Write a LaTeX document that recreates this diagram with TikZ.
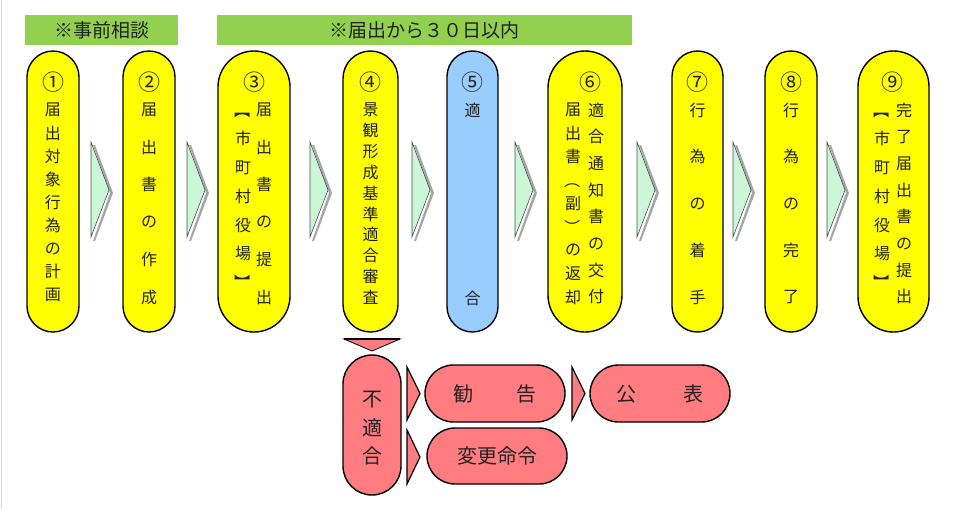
\documentclass[tikz,border=0pt]{standalone}
\usepackage{fontspec}
\setmainfont{Noto Sans CJK JP}
\usepackage{graphicx}
\definecolor{hdrgreen}{HTML}{92D050}
\definecolor{pillyellow}{HTML}{FFFF00}
\definecolor{pillblue}{HTML}{99CCFF}
\definecolor{pillpink}{HTML}{FF7C80}
\definecolor{chevgreen}{HTML}{CCF7D6}
\definecolor{txt}{HTML}{222222}
\tikzset{
  hdr/.style={fill=hdrgreen, draw=none, inner sep=0pt, text=txt, font=\fontsize{19}{19}\selectfont},
  pill/.style={draw=black, line width=1.4pt, inner sep=0pt, rectangle},
  ch/.style={inner sep=0pt, text=txt, font=\fontsize{16}{16}\selectfont},
  num/.style={inner sep=0pt, text=txt, font=\fontsize{22}{22}\selectfont},
  bigch/.style={inner sep=0pt, text=txt, font=\fontsize{20}{20}\selectfont},
  chev/.style={fill=chevgreen, draw=black!70, line width=0.6pt},
  chevshadow/.style={fill=black!35, draw=none},
  tri/.style={fill=pillpink, draw=black, line width=1.2pt, line join=miter},
}
\newcommand{\vbrk}[1]{\rotatebox{-90}{#1}}
\newcommand{\chevron}[1]{%
  \fill[chevshadow] (#1+4,145) -- (#1+22,193) -- (#1+4,241) -- (#1+2,241) -- (#1+19,193) -- (#1+2,145) -- cycle;
  \filldraw[chev] (#1,142) -- (#1+18,190) -- (#1,237) -- cycle;}
\begin{document}
\begin{tikzpicture}[x=1pt,y=-1pt]
\useasboundingbox (0,0) rectangle (959,509);
\draw[black!15, line width=1pt] (1,0) -- (1,509);
% headers
\node[hdr, minimum width=153pt, minimum height=30pt] (h1) at (101.5,30) {※事前相談};
\node[hdr, minimum width=415pt, minimum height=30pt] (h2) at (424.5,30) {※届出から３０日以内};
% pills
\node[pill, fill=pillyellow, minimum width=52pt, minimum height=281pt, rounded corners=26pt] (p1) at (53,191.5) {};
\node[pill, fill=pillyellow, minimum width=52pt, minimum height=281pt, rounded corners=26pt] (p2) at (149,191.5) {};
\node[pill, fill=pillyellow, minimum width=72pt, minimum height=281pt, rounded corners=36pt] (p3) at (254,191.5) {};
\node[pill, fill=pillyellow, minimum width=55pt, minimum height=281pt, rounded corners=27.5pt] (p4) at (370.5,191.5) {};
\node[pill, fill=pillblue, minimum width=51pt, minimum height=281pt, rounded corners=25.5pt] (p5) at (472.5,191.5) {};
\node[pill, fill=pillyellow, minimum width=74pt, minimum height=281pt, rounded corners=37pt] (p6) at (585,191.5) {};
\node[pill, fill=pillyellow, minimum width=51pt, minimum height=281pt, rounded corners=25.5pt] (p7) at (697.5,191.5) {};
\node[pill, fill=pillyellow, minimum width=52pt, minimum height=281pt, rounded corners=26pt] (p8) at (791,191.5) {};
\node[pill, fill=pillyellow, minimum width=71pt, minimum height=281pt, rounded corners=35.5pt] (p9) at (893.5,191.5) {};
% circled numbers
\node[num] (n1) at (53,82) {①};
\node[num] (n2) at (149,82) {②};
\node[num] (n3) at (254,82) {③};
\node[num] (n4) at (370.5,82) {④};
\node[num] (n5) at (472.5,82) {⑤};
\node[num] (n6) at (590,82) {⑥};
\node[num] (n7) at (697.5,82) {⑦};
\node[num] (n8) at (791,82) {⑧};
\node[num] (n9) at (892,82) {⑨};
% columns
\foreach \c [count=\i] in {届,出,対,象,行,為,の,計,画}
  \node[ch] (t1-\i) at (53,{110+(\i-1)*23.1}) {\c};
\foreach \c [count=\i] in {届,出,書,の,作,成}
  \node[ch] (t2-\i) at (149,{110+(\i-1)*37.4}) {\c};
\foreach \c [count=\i] in {届,出,書,の,提,出}
  \node[ch] (t3r-\i) at (264,{110+(\i-1)*37.4}) {\c};
\foreach \c [count=\i] in {{\vbrk{【}},市,町,村,役,場,{\vbrk{】}}}
  \node[ch] (t3l-\i) at (243,{110+(\i-1)*28.8}) {\c};
\foreach \c [count=\i] in {景,観,形,成,基,準,適,合,審,査}
  \node[ch] (t4-\i) at (370.5,{110+(\i-1)*20.8}) {\c};
\node[ch] (t5-1) at (472.5,110) {適};
\node[ch] (t5-2) at (472.5,298) {合};
\foreach \c [count=\i] in {適,合,通,知,書,の,交,付}
  \node[ch] (t6r-\i) at (596,{110+(\i-1)*26.7}) {\c};
\foreach \c [count=\i] in {届,出,書,{\vbrk{（}},副,{\vbrk{）}},の,返,却}
  \node[ch] (t6l-\i) at (573,{110+(\i-1)*23.4}) {\c};
\foreach \c [count=\i] in {行,為,の,着,手}
  \node[ch] (t7-\i) at (697.5,{110+(\i-1)*46.75}) {\c};
\foreach \c [count=\i] in {行,為,の,完,了}
  \node[ch] (t8-\i) at (791,{110+(\i-1)*46.75}) {\c};
\foreach \c [count=\i] in {完,了,届,出,書,の,提,出}
  \node[ch] (t9r-\i) at (904,{110+(\i-1)*26.7}) {\c};
\foreach \c [count=\i] in {{\vbrk{【}},市,町,村,役,場,{\vbrk{】}}}
  \node[ch] (t9l-\i) at (882,{110+(\i-1)*28.8}) {\c};
% chevrons
\chevron{91}
\chevron{187}
\chevron{310}
\chevron{412}
\chevron{515}
\chevron{637}
\chevron{733}
\chevron{827}
% bottom branch
\coordinate (dl) at (344,339);
\coordinate (dr) at (400,339);
\coordinate (da) at (372,351);
\filldraw[fill=pillpink, draw=black, line width=0.8pt] (dl) -- (dr) -- (da) -- cycle;
\draw[black, line width=1.8pt] (dl) -- (dr);
\node[pill, fill=pillpink, minimum width=58pt, minimum height=140pt, rounded corners=29pt] (nf) at (372,425) {};
\node[bigch] (nf1) at (372,400) {不};
\node[bigch] (nf2) at (372,428) {適};
\node[bigch] (nf3) at (372,456) {合};
\filldraw[tri] (407,367) -- (420,393.5) -- (407,420) -- cycle;
\filldraw[tri] (407,430) -- (420,457) -- (407,484) -- cycle;
\filldraw[tri] (572,367) -- (585,393.5) -- (572,420) -- cycle;
\node[pill, fill=pillpink, minimum width=140pt, minimum height=57pt, rounded corners=28.5pt, font=\fontsize{20}{20}\selectfont, text=txt] (kan) at (495,393.5) {勧\hspace{2.2em}告};
\node[pill, fill=pillpink, minimum width=140pt, minimum height=57pt, rounded corners=28.5pt, font=\fontsize{20}{20}\selectfont, text=txt] (kou) at (660,393.5) {公\hspace{2.4em}表};
\node[pill, fill=pillpink, minimum width=140pt, minimum height=56pt, rounded corners=28pt, font=\fontsize{20}{20}\selectfont, text=txt] (hen) at (497,456) {変更命令};
\end{tikzpicture}
\end{document}
